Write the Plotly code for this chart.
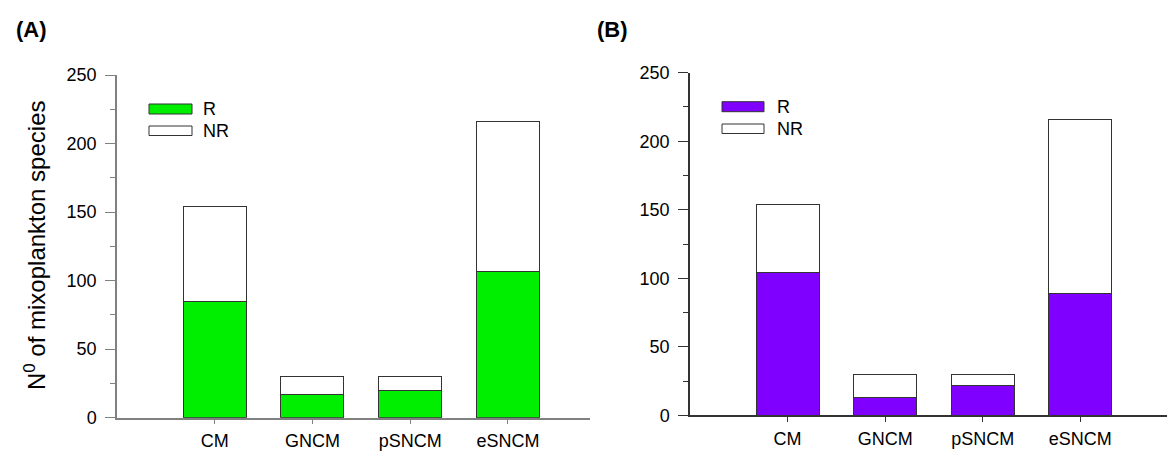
import plotly.graph_objects as go

W, H = 1175, 452
OFF = 8  # page body margin offset seen in the screenshot

categories = ["CM", "GNCM", "pSNCM", "eSNCM"]
a_r = [85, 17, 20, 107]
a_nr = [69, 13, 10, 109]
b_r = [104, 13, 22, 89]
b_nr = [50, 17, 8, 127]
y_ticks = [0, 50, 100, 150, 200, 250]

GREEN = "#00ee00"
PURPLE = "#7f00ff"
FONT = "Liberation Sans, Arial, sans-serif"

fig = go.Figure()
outline = dict(color="#333333", width=1)
fig.add_trace(go.Bar(x=categories, y=a_r, name="R", marker=dict(color=GREEN, line=outline),
                     width=0.645, xaxis="x", yaxis="y", showlegend=False))
fig.add_trace(go.Bar(x=categories, y=a_nr, name="NR", marker=dict(color="white", line=outline),
                     width=0.645, xaxis="x", yaxis="y", showlegend=False))
fig.add_trace(go.Bar(x=categories, y=b_r, name="R", marker=dict(color=PURPLE, line=outline),
                     width=0.645, xaxis="x2", yaxis="y2", showlegend=False))
fig.add_trace(go.Bar(x=categories, y=b_nr, name="NR", marker=dict(color="white", line=outline),
                     width=0.645, xaxis="x2", yaxis="y2", showlegend=False))

def px_x(v):
    return min(1.0, (v - OFF) / W)

def px_y(v):
    return (H - (v - OFF)) / H

def xax(domain, rng, color, anchor):
    return dict(domain=domain, range=rng, type="category", categoryorder="array",
                categoryarray=categories, anchor=anchor, showline=True, linecolor=color,
                linewidth=1.5, ticks="outside", ticklen=5, tickcolor=color, tickwidth=1.2,
                tickfont=dict(family=FONT, size=18, color="black"), automargin=False,
                ticklabelstandoff=1, showgrid=False, zeroline=False, fixedrange=True)

def yax(domain, anchor, color):
    return dict(domain=domain, range=[0, 250], anchor=anchor, showline=True, linecolor=color,
                linewidth=1.5, ticks="outside", ticklen=10, tickcolor=color, tickwidth=1.2,
                tickvals=y_ticks, tickfont=dict(family=FONT, size=18, color="black"),
                ticklabelstandoff=5, showgrid=False, zeroline=False, fixedrange=True,
                automargin=False,
                minor=dict(ticks="outside", ticklen=5, dtick=25, tickcolor=color, tickwidth=1.2))

fig.update_layout(
    width=W, height=H, barmode="stack", plot_bgcolor="white", paper_bgcolor="white",
    margin=dict(l=0, r=0, t=0, b=0, autoexpand=False),
    xaxis=xax([px_x(117), px_x(590)], [-1, 3.84], "#808080", "y"),
    yaxis=yax([px_y(417.7), px_y(75)], "x", "#808080"),
    xaxis2=xax([px_x(690), px_x(1175 + OFF)], [-1, 3.97 + OFF / 97.7], "#333333", "y2"),
    yaxis2=yax([px_y(415.3), px_y(72.7)], "x2", "#333333"),
)

shapes = []
annotations = []

def legend(x0, x1, ytop1, ytop2, color, tx):
    shapes.append(dict(type="rect", xref="paper", yref="paper", x0=px_x(x0), x1=px_x(x1),
                       y0=px_y(ytop1 + 10), y1=px_y(ytop1), fillcolor=color,
                       line=dict(color="#333333", width=1)))
    shapes.append(dict(type="rect", xref="paper", yref="paper", x0=px_x(x0), x1=px_x(x1),
                       y0=px_y(ytop2 + 9.5), y1=px_y(ytop2), fillcolor="white",
                       line=dict(color="#333333", width=1)))
    annotations.append(dict(text="R", xref="paper", yref="paper", x=px_x(tx), y=px_y(ytop1 + 5),
                            xanchor="left", yanchor="middle", showarrow=False,
                            font=dict(family=FONT, size=18, color="black")))
    annotations.append(dict(text="NR", xref="paper", yref="paper", x=px_x(tx), y=px_y(ytop2 + 5),
                            xanchor="left", yanchor="middle", showarrow=False,
                            font=dict(family=FONT, size=18, color="black")))

legend(149, 192, 104, 126, GREEN, 201)
legend(722, 764, 101.7, 124, PURPLE, 775)

for txt, x in [("(A)", 14), ("(B)", 595)]:
    annotations.append(dict(text="<b>%s</b>" % txt, xref="paper", yref="paper", x=px_x(x), y=px_y(29),
                            xanchor="left", yanchor="middle", showarrow=False,
                            font=dict(family=FONT, size=22, color="black")))

annotations.append(dict(text="N<sup>0</sup> of mixoplankton species", xref="paper", yref="paper",
                        x=px_x(35), y=px_y(245), xanchor="center", yanchor="middle",
                        textangle=-90, showarrow=False,
                        font=dict(family=FONT, size=24, color="black")))

fig.update_layout(shapes=shapes, annotations=annotations)
fig.write_html("out.html")
